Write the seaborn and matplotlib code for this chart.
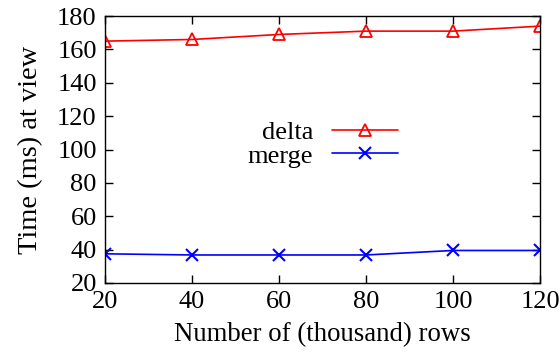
import matplotlib
matplotlib.use("Agg")
import matplotlib.pyplot as plt
import pandas as pd
import seaborn as sns

rows = [20, 40, 60, 80, 100, 120]
delta = [165, 166, 169, 171, 171, 174]
merge = [37.5, 36.8, 36.8, 36.8, 39.5, 39.5]

sns.set_style("ticks")
plt.rcParams['font.family'] = ['Liberation Serif', 'DejaVu Serif']
plt.rcParams['font.size'] = 19
plt.rcParams['text.color'] = 'black'
plt.rcParams['axes.labelcolor'] = 'black'

df = pd.DataFrame({'rows': rows, 'delta': delta, 'merge': merge})

fig = plt.figure(figsize=(5.59, 3.58), dpi=100)
ax = fig.add_axes([0.188, 0.2095, 0.778, 0.7455])

sns.lineplot(x='rows', y='delta', data=df, ax=ax, color='#ff0000', marker='^',
             markersize=9, markerfacecolor='none', markeredgecolor='#ff0000',
             markeredgewidth=1.3, linewidth=1.2, label='delta')
sns.lineplot(x='rows', y='merge', data=df, ax=ax, color='#0000ff', marker='x',
             markersize=8, markeredgecolor='#0000ff', markeredgewidth=1.5,
             linewidth=1.2, label='merge')

ax.set_xlim(20, 120)
ax.set_ylim(20, 180)
ax.set_xticks(rows)
ax.set_yticks(range(20, 181, 20))
ax.set_xlabel('Number of (thousand) rows', fontsize=19.3, labelpad=6)
ax.set_ylabel('Time (ms) at view', fontsize=20.5, labelpad=10)
ax.tick_params(direction='in', length=6, width=1, top=True, right=True,
               labelsize=19, pad=6, colors='black')
for s in ax.spines.values():
    s.set_linewidth(1)
    s.set_color('black')

ax.legend(loc='center', bbox_to_anchor=(0.5, 0.52), frameon=False,
          markerfirst=False, handlelength=2.5, handletextpad=0.7,
          labelspacing=0.0, fontsize=19, borderaxespad=0)

fig.savefig('out.png', dpi=100)
